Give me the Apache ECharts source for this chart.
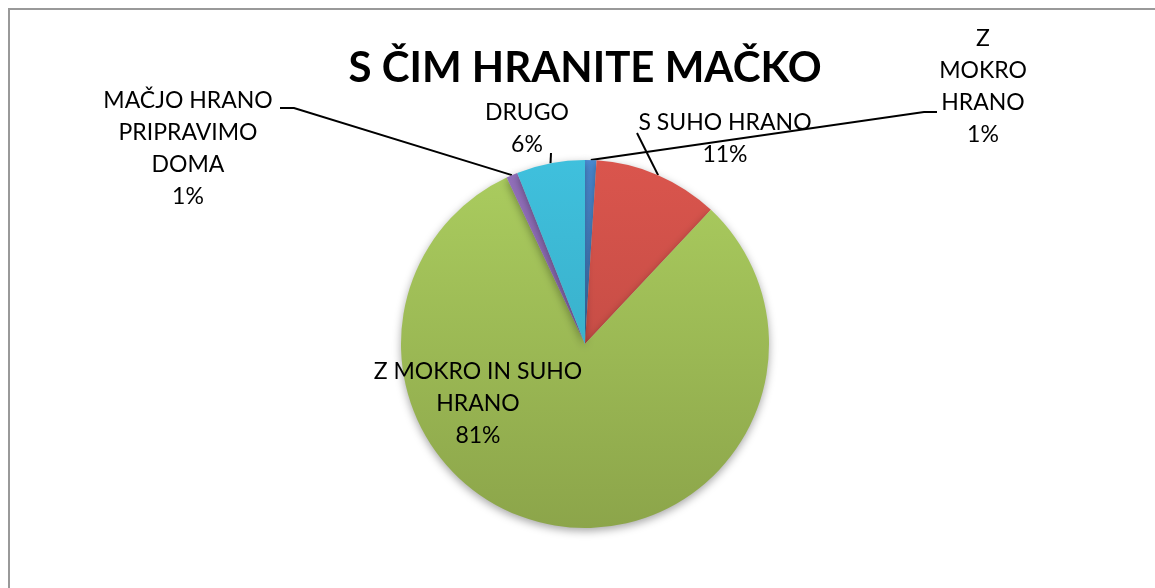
<!DOCTYPE html>
<html>
<head>
<meta charset="utf-8">
<script src="https://cdn.jsdelivr.net/npm/echarts@6/dist/echarts.min.js"></script>
<style>
  html, body { margin: 0; padding: 0; background: #fff; }
  #chart { width: 1155px; height: 588px; }
</style>
</head>
<body>
<div id="chart"></div>
<script>
// podatki
var categories = ['Z MOKRO HRANO', 'S SUHO HRANO', 'Z MOKRO IN SUHO HRANO', 'MAČJO HRANO PRIPRAVIMO DOMA', 'DRUGO'];
var values = [1, 11, 81, 1, 6];
var labelNames = ['Z\nMOKRO\nHRANO', 'S SUHO HRANO', 'Z MOKRO IN SUHO\nHRANO', 'MAČJO HRANO\nPRIPRAVIMO\nDOMA', 'DRUGO'];

// barve (zgoraj / spodaj)
var topColors = ['#4b8bd3', '#da554d', '#abcd5f', '#9270bb', '#3fc0dd'];
var bottomColors = ['#3f74b0', '#b4463f', '#8ca54a', '#7a5c9c', '#35a3bb'];

// postavitev oznak
var labelPos = [[983, 87], [725, 139], [478, 404], [188, 149], [527, 129]];
var elbows = [
    [[924, 112], [937, 112]],
    [[637, 133]],
    null,
    [[294, 108], [280, 108]],
    [[551, 153]]
];

var myChart = echarts.init(document.getElementById('chart'));

var seriesData = categories.map(function (name, i) {
    return {
        name: name,
        value: values[i],
        itemStyle: {
            color: {
                type: 'linear', x: 0, y: 160, x2: 0, y2: 528, global: true,
                colorStops: [{ offset: 0, color: topColors[i] }, { offset: 1, color: bottomColors[i] }]
            }
        },
        labelLine: { show: i !== 2 }
    };
});

var option = {
    backgroundColor: '#fff',
    animation: false,
    graphic: [
        {
            type: 'rect', silent: true, z: -1,
            shape: { x: 9, y: 9, width: 1200, height: 700 },
            style: { fill: 'none', stroke: '#999', lineWidth: 2 }
        },
        {
            type: 'text', x: 585, y: 68,
            style: {
                text: 'S ČIM HRANITE MAČKO',
                font: 'bold 42px Lato',
                fill: '#000',
                align: 'center',
                verticalAlign: 'middle'
            }
        }
    ],
    series: [{
        name: 'S ČIM HRANITE MAČKO',
        type: 'pie',
        center: [585, 344],
        radius: 184,
        startAngle: 90,
        clockwise: true,
        percentPrecision: 0,
        avoidLabelOverlap: false,
        itemStyle: {
            borderWidth: 0,
            shadowBlur: 8,
            shadowOffsetY: 3,
            shadowColor: 'rgba(0,0,0,0.35)'
        },
        label: {
            show: true,
            position: 'outside',
            formatter: function (p) {
                return labelNames[p.dataIndex] + '\n' + p.percent + '%';
            },
            fontFamily: 'Lato',
            fontSize: 23,
            lineHeight: 32,
            color: '#000',
            align: 'center'
        },
        labelLine: {
            show: true,
            length: 20,
            length2: 10,
            smooth: false,
            lineStyle: { color: '#000', width: 2 }
        },
        labelLayout: function (params) {
            var i = params.dataIndex;
            var out = {
                x: labelPos[i][0],
                y: labelPos[i][1],
                align: 'center',
                verticalAlign: 'middle'
            };
            if (elbows[i] && params.labelLinePoints) {
                out.labelLinePoints = [params.labelLinePoints[0]].concat(elbows[i]);
            }
            return out;
        },
        data: seriesData
    }]
};

myChart.setOption(option);
</script>
</body>
</html>
